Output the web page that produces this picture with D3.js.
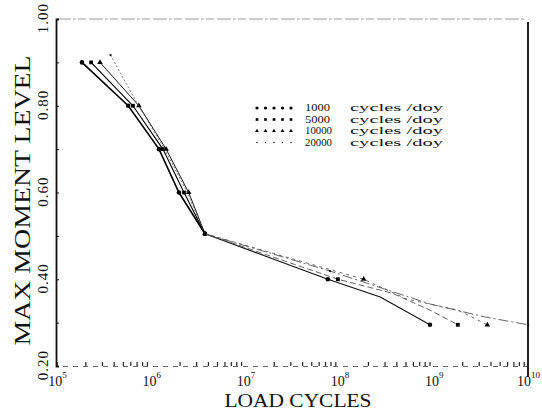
<!DOCTYPE html>
<html><head><meta charset="utf-8">
<script src="https://cdn.jsdelivr.net/npm/d3@7/dist/d3.min.js"></script>
<style>
html,body{margin:0;padding:0;background:#fff;}
svg{display:block;}
text{font-family:"Liberation Serif","DejaVu Serif",serif;fill:#111;}
</style></head>
<body><svg id="c" width="542" height="411"></svg>
<script>
// ---- data ----
const seriesNames = ["1000", "5000", "10000", "20000"];
const legendUnit = "cycles /doy";
const xTickExponents = [5, 6, 7, 8, 9, 10];
const yTickLabels = ["0.20", "0.40", "0.60", "0.80", "1.00"];
const yTickValues = [0.20, 0.40, 0.60, 0.80, 1.00];

const cycles1000 = [1.84e5, 5.7e5, 1.21e6, 1.97e6, 3.72e6, 7.5e7, 2.7e8, 9.1e8];
const level1000  = [0.900, 0.800, 0.700, 0.600, 0.505, 0.400, 0.359, 0.295];
const marked1000 = [1, 1, 1, 1, 1, 1, 0, 1];

const cycles5000 = [2.3e5, 6.4e5, 1.33e6, 2.23e6, 3.72e6, 9.6e7, 3.6e8, 9.1e8, 1.8e9];
const level5000  = [0.900, 0.800, 0.700, 0.600, 0.505, 0.400, 0.368, 0.329, 0.295];
const marked5000 = [1, 1, 1, 1, 1, 1, 0, 0, 1];

const cycles10000 = [2.86e5, 7.4e5, 1.44e6, 2.5e6, 3.72e6, 1.8e8, 5.2e8, 1.8e9, 3.7e9];
const level10000  = [0.900, 0.800, 0.700, 0.600, 0.505, 0.400, 0.354, 0.329, 0.295];
const marked10000 = [1, 1, 1, 1, 1, 1, 0, 0, 1];

const cycles20000 = [3.7e5, 7.1e5, 1.33e6, 2.34e6, 3.72e6, 7.9e7, 9.1e8, 3.5e9, 1e10];
const level20000  = [0.917, 0.805, 0.707, 0.606, 0.505, 0.419, 0.343, 0.313, 0.295];
const marked20000 = [1, 0, 0, 0, 1, 1, 0, 0, 1];

// ---- layout ----
const svg = d3.select("#c");
const L = 57, R = 528, T = 19, B = 366;
const x = d3.scaleLog().domain([1e5, 1e10]).range([L, R]);
const y = d3.scaleLinear().domain([0.2, 1.0]).range([B, T]);

// top frame line (dashed gray)
svg.append("line").attr("x1", L).attr("x2", R - 4).attr("y1", T).attr("y2", T)
  .attr("stroke", "#999").attr("stroke-width", 1.1).attr("stroke-dasharray", "14,2,3,2,8,3");

// bottom axis (dashed with minor ticks)
const minor = [];
for (let e = 5; e < 10; e++) for (let m = 2; m <= 9; m++) minor.push(m * Math.pow(10, e));
const gb = svg.append("g").attr("transform", `translate(0,${B})`)
  .call(d3.axisBottom(x).tickValues(minor).tickSize(-4).tickFormat(""));
gb.select(".domain").attr("stroke", "#666").attr("stroke-dasharray", "5,5").attr("stroke-width", 1.1);
gb.selectAll(".tick line").attr("stroke", "#222").attr("stroke-width", 1.2);

// decade labels
const gl = svg.append("g").attr("transform", `translate(0,${B})`)
  .call(d3.axisBottom(x).tickValues(xTickExponents.map(e => Math.pow(10, e))).tickSize(0).tickPadding(10).tickFormat(""));
gl.select(".domain").remove();
gl.selectAll(".tick").each(function(d, i) {
  const t = d3.select(this).select("text").attr("font-size", 14).attr("text-anchor", "middle").attr("dy", "0.71em");
  t.append("tspan").text("10");
  t.append("tspan").attr("font-size", 9).attr("dy", "-0.9em").text(String(xTickExponents[i]));
});

// left axis
const gy = svg.append("g").attr("transform", `translate(${L - 1},0)`)
  .call(d3.axisLeft(y).tickValues(d3.range(0.2, 1.0001, 0.1)).tickSize(-3).tickFormat(""));
gy.select(".domain").attr("stroke", "#111").attr("stroke-width", 1.8);
gy.selectAll(".tick line").attr("stroke", "#111");
yTickValues.forEach((v, i) => {
  svg.append("text").attr("transform", `translate(48,${y(v) - 1}) rotate(-90)`)
    .attr("text-anchor", "middle").attr("font-size", 15).attr("letter-spacing", 1)
    .text(yTickLabels[i]);
});

// right frame
svg.append("line").attr("x1", R).attr("x2", R).attr("y1", T + 3).attr("y2", B + 11)
  .attr("stroke", "#222").attr("stroke-width", 2);

// axis titles
svg.append("text").attr("transform", `translate(30,${(T + B) / 2 + 8}) rotate(-90)`)
  .attr("text-anchor", "middle").attr("font-size", 23)
  .attr("textLength", 290).attr("lengthAdjust", "spacingAndGlyphs").text("MAX MOMENT LEVEL");
svg.append("text").attr("x", 298).attr("y", 407).attr("text-anchor", "middle").attr("font-size", 19)
  .attr("textLength", 147).attr("lengthAdjust", "spacingAndGlyphs").text("LOAD CYCLES");

// series
const series = [
  {c: cycles1000, l: level1000, m: marked1000, w: 1.6, w2: 1.1, dash2: null, shape: "circle"},
  {c: cycles5000, l: level5000, m: marked5000, w: 1.1, w2: 0.9, dash2: "6,3", shape: "square"},
  {c: cycles10000, l: level10000, m: marked10000, w: 0.9, w2: 0.9, dash2: "3,4", shape: "triangle"},
  {c: cycles20000, l: level20000, m: marked20000, w: 0.8, w2: 0.9, dash2: "10,3,2,3", shape: "dot"}
];
const line = d3.line().x(d => x(d[0])).y(d => y(d[1]));
function marker(g, shape, cx, cy, scale) {
  const s = scale || 1;
  if (shape === "circle") g.append("circle").attr("cx", cx).attr("cy", cy).attr("r", 2.3 * s).attr("fill", "#000");
  else if (shape === "square") g.append("rect").attr("x", cx - 1.9 * s).attr("y", cy - 1.9 * s).attr("width", 3.8 * s).attr("height", 3.8 * s).attr("fill", "#000");
  else if (shape === "triangle") g.append("path").attr("d", d3.symbol(d3.symbolTriangle, 13 * s * s)()).attr("transform", `translate(${cx},${cy})`).attr("fill", "#000");
  else g.append("circle").attr("cx", cx).attr("cy", cy).attr("r", 1.1 * s).attr("fill", "#000");
}
series.forEach((s, si) => {
  const pts = s.c.map((c, i) => [c, s.l[i]]);
  const k = d3.maxIndex(pts, p => (p[1] >= 0.5 ? p[0] : -1)); // junction point
  const upper = pts.slice(0, k + 1), lower = pts.slice(k);
  svg.append("path").attr("d", line(upper)).attr("fill", "none").attr("stroke", si === 3 ? "#555" : "#000")
    .attr("stroke-width", s.w).attr("stroke-dasharray", si === 3 ? "2,2" : null);
  svg.append("path").attr("d", line(lower)).attr("fill", "none").attr("stroke", si === 0 ? "#111" : "#555")
    .attr("stroke-width", s.w2).attr("stroke-dasharray", s.dash2);
  const g = svg.append("g");
  pts.forEach((p, i) => { if (s.m[i]) marker(g, s.shape, x(p[0]), y(p[1])); });
});

// legend
const lg = svg.append("g");
const rowY = [111, 122.5, 134, 145.5];
const numLen = [25, 25, 27, 27];
series.forEach((s, i) => {
  for (let k = 0; k < 5; k++) marker(lg, s.shape, 257 + k * 8.5, rowY[i] - 3, 0.7);
  lg.append("text").attr("x", 305).attr("y", rowY[i]).attr("font-size", 10)
    .attr("textLength", numLen[i]).attr("lengthAdjust", "spacingAndGlyphs").text(seriesNames[i]);
  lg.append("text").attr("x", 350).attr("y", rowY[i]).attr("font-size", 10)
    .attr("textLength", 93).attr("lengthAdjust", "spacingAndGlyphs").text(legendUnit);
});
</script></body></html>
